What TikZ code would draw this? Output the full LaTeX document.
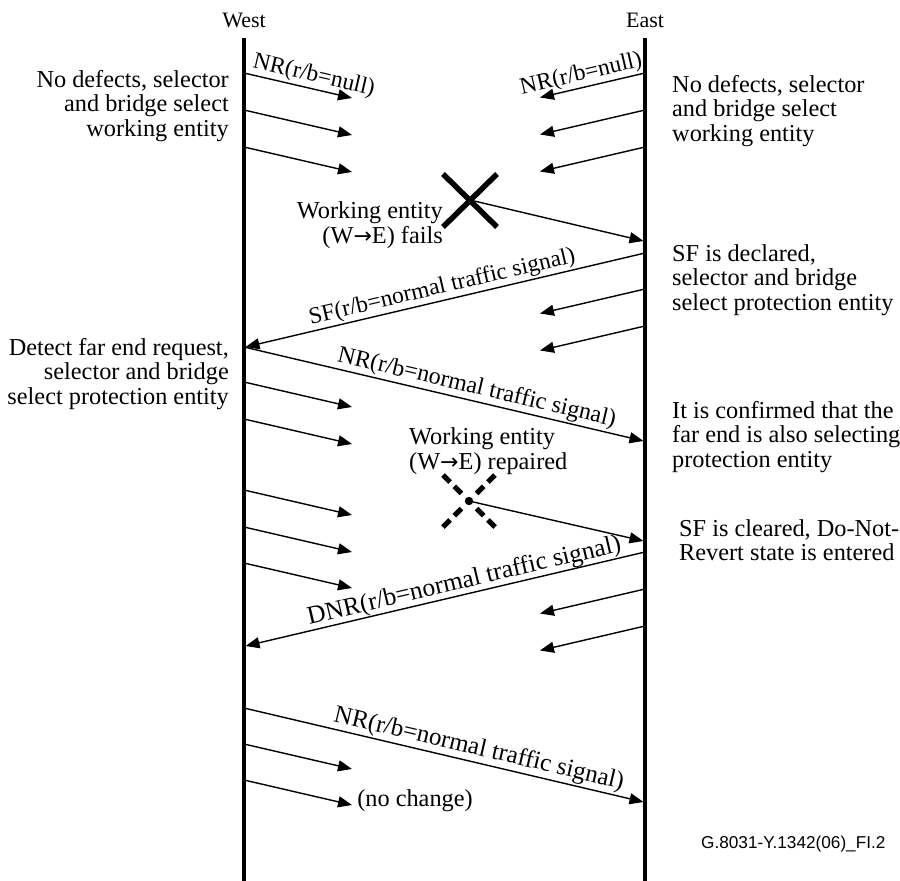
\documentclass[tikz,border=0pt]{standalone}
\usepackage{fontspec}
\setmainfont{Liberation Serif}
\newfontfamily\figsans{Liberation Sans}
\newfontfamily\arrowglyph{DejaVu Sans}
\usetikzlibrary{arrows.meta}

\begin{document}
\begin{tikzpicture}[x=1pt,y=-1pt,
  lifeline/.style={line width=3.2pt},
  msg/.style={line width=1.4pt,-{Triangle[length=14pt,width=11pt]}},
  note/.style={font=\fontsize{24.3}{24.6}\selectfont, inner sep=0pt},
  msglabel/.style={font=\fontsize{#1}{#1}\selectfont, inner sep=2pt, sloped, above},
  msglabel/.default=23.5,
  endname/.style={font=\fontsize{22}{24}\selectfont, inner sep=0pt, anchor=base},
  failmark/.style={line width=5.5pt},
  repairmark/.style={line width=5pt, dash pattern=on 10pt off 6pt on 10pt off 30pt}
]
\useasboundingbox (0,0) rectangle (900,881);

% lifelines
\coordinate (Wtop) at (244,38);
\coordinate (Wbot) at (244,881);
\coordinate (Etop) at (645,38);
\coordinate (Ebot) at (645,881);
\draw[lifeline] (Wtop) -- (Wbot);
\draw[lifeline] (Etop) -- (Ebot);
\node[endname] (west) at (244,27) {West};
\node[endname] (east) at (645,27) {East};

% short messages sent by West
\foreach \y [count=\i] in {73,110,147,382,419,490,527,563,744,780} {
  \coordinate (wa\i) at (244,\y);
  \coordinate (wb\i) at (352,\y+25);
  \draw[msg] (wa\i) -- (wb\i);
}
% short messages sent by East
\foreach \y [count=\i] in {73,110,147,289,326,589,626} {
  \coordinate (ea\i) at (645,\y);
  \coordinate (eb\i) at (540,\y+24.5);
  \draw[msg] (ea\i) -- (eb\i);
}
\path (wa1) -- (wb1) node[msglabel, pos=0.62] {NR(r/b=null)};
\path (eb1) -- (ea1) node[msglabel, pos=0.42] {NR(r/b=null)};

% failure of the working entity W->E
\coordinate (fail) at (470,200);
\coordinate (failEnd) at (643.5,241);
\draw[failmark] (443,174) -- (497,227);
\draw[failmark] (497,174) -- (443,227);
\draw[msg] (fail) -- (failEnd);
\node[note, align=right, anchor=north east] (failtxt) at (443,201.5)
  {\strut Working entity\\(W{\arrowglyph\fontsize{22}{24}\selectfont →}E) fails};

% SF request from East
\coordinate (sfE) at (645,253);
\coordinate (sfW) at (245.5,347);
\draw[msg] (sfE) -- (sfW);
\path (sfW) -- (sfE) node[msglabel, pos=0.5] {SF(r/b=normal traffic signal)};

% NR answer from West
\coordinate (nrW) at (244,347);
\coordinate (nrE) at (643.5,441);
\draw[msg] (nrW) -- (nrE);
\path (nrW) -- (nrE) node[msglabel=24, pos=0.575] {NR(r/b=normal traffic signal)};

% repair of the working entity W->E
\coordinate (rep) at (469,501);
\coordinate (repEnd) at (643.5,541);
\draw[repairmark] (443,475) -- (rep);
\draw[repairmark] (495,527) -- (rep);
\draw[repairmark] (495,475) -- (rep);
\draw[repairmark] (443,527) -- (rep);
\fill (rep) circle (4.2pt);
\draw[msg] (rep) -- (repEnd);
\node[note, align=left, anchor=north west] (reptxt) at (409,427.5)
  {\strut Working entity\\(W{\arrowglyph\fontsize{22}{24}\selectfont →}E) repaired};

% DNR from East
\coordinate (dnrE) at (645,552);
\coordinate (dnrW) at (245.5,646);
\draw[msg] (dnrE) -- (dnrW);
\path (dnrW) -- (dnrE) node[msglabel=25.5, inner sep=0.5pt, pos=0.555] {DNR(r/b=normal traffic signal)};

% final NR from West
\coordinate (fnW) at (244,708);
\coordinate (fnE) at (643.5,802);
\draw[msg] (fnW) -- (fnE);
\path (fnW) -- (fnE) node[msglabel=25, pos=0.58] {NR(r/b=normal traffic signal)};
\node[note, anchor=base] (nochange) at (415,806) {(no change)};

% state descriptions
\node[note, align=right, anchor=north east] (wst1) at (229,69.8)
  {\strut No defects, selector\\and bridge select\\working entity};
\node[note, align=left, anchor=north west] (est1) at (672,74.8)
  {\strut No defects, selector\\and bridge select\\working entity};
\node[note, align=left, anchor=north west] (est2) at (672,243.8)
  {\strut SF is declared,\\selector and bridge\\select protection entity};
\node[note, align=right, anchor=north east] (wst2) at (229,337.8)
  {\strut Detect far end request,\\selector and bridge\\select protection entity};
\node[note, align=left, anchor=north west] (est3) at (672,400.8)
  {\strut It is confirmed that the\\far end is also selecting\\protection entity};
\node[note, align=left, anchor=north west] (est4) at (679,518.8)
  {\strut SF is cleared, Do-Not-\\Revert state is entered};

% figure identifier
\node[font=\figsans\fontsize{17.2}{19}\selectfont, inner sep=0pt, anchor=base west] (figid)
  at (701,848) {G.8031-Y.1342(06)\_FI.2};
\end{tikzpicture}
\end{document}
